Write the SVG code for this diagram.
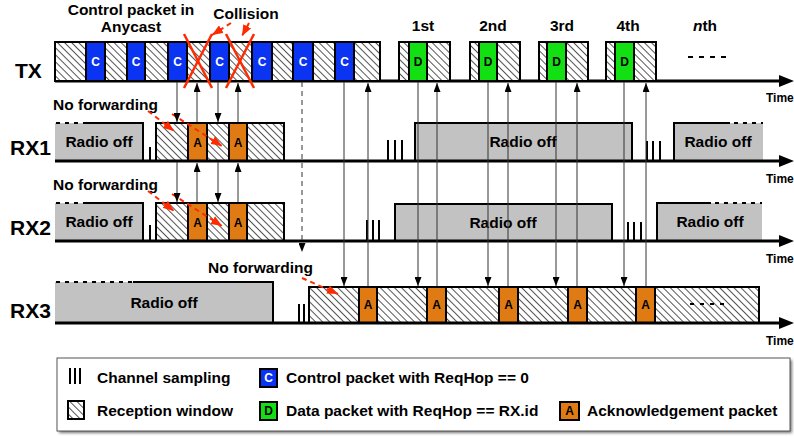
<svg xmlns="http://www.w3.org/2000/svg" width="794" height="437" viewBox="0 0 794 437">
<defs>
<pattern id="h" patternUnits="userSpaceOnUse" width="5" height="5" patternTransform="rotate(-45)">
<rect width="5" height="5" fill="#fff"/>
<line x1="0.5" y1="0" x2="0.5" y2="5" stroke="#555" stroke-width="1"/>
</pattern>
<marker id="ar" viewBox="0 0 9 7" refX="9" refY="3.5" markerWidth="9" markerHeight="7" markerUnits="userSpaceOnUse" orient="auto"><path d="M0,0 L9,3.5 L0,7z" fill="#000"/></marker>
<marker id="rar" viewBox="0 0 10 8" refX="10" refY="4" markerWidth="11" markerHeight="9" markerUnits="userSpaceOnUse" orient="auto"><path d="M0,0 L10,4 L0,8z" fill="#ff2a00"/></marker>
<filter id="sh" x="-5%" y="-10%" width="110%" height="130%"><feGaussianBlur stdDeviation="1.5"/></filter>
</defs>
<style>
.hb{fill:url(#h);stroke:#000;stroke-width:2}
.c{fill:#0b34f2;stroke:#000;stroke-width:2}
.d{fill:#12e012;stroke:#000;stroke-width:2}
.a{fill:#e07b14;stroke:#000;stroke-width:2}
.off{fill:#c2c2c2}
.edge{fill:none;stroke:#000;stroke-width:2}
.dots{fill:none;stroke:#000;stroke-width:2;stroke-dasharray:4,5}
.axis{stroke:#000;stroke-width:3}
.samp{stroke:#000;stroke-width:2}
.t{font-family:'Liberation Sans',Arial,sans-serif;font-weight:bold;fill:#000}
.lb{font-size:15.5px}
.row{font-size:21px}
.tm{font-size:12px}
.pk{font-size:12px;text-anchor:middle}
.pw{fill:#fff}
.conn{stroke:#333;stroke-width:1;fill:none}
.red{stroke:#ff2a00;stroke-width:2.5;fill:none}
.rdash{stroke:#ff2a00;stroke-width:2;fill:none;stroke-dasharray:5,4}
</style>

<!-- TX row -->
<g id="tx">
<line class="axis" x1="55" y1="81" x2="782" y2="81"/>
<polygon points="779,75 794,81 779,87" fill="#000"/>
<rect class="hb" x="55" y="42" width="325" height="39"/>
<rect class="c" x="86" y="42" width="19" height="39"/>
<rect class="c" x="127" y="42" width="18" height="39"/>
<rect class="c" x="168" y="42" width="19" height="39"/>
<rect class="c" x="210" y="42" width="19" height="39"/>
<rect class="c" x="252" y="42" width="20" height="39"/>
<rect class="c" x="293" y="42" width="20" height="39"/>
<rect class="c" x="335" y="42" width="19" height="39"/>
<g class="t pk pw">
<text x="95.5" y="66">C</text><text x="136" y="66">C</text><text x="177.5" y="66">C</text><text x="219.5" y="66">C</text><text x="262" y="66">C</text><text x="303" y="66">C</text><text x="344.5" y="66">C</text>
</g>
<rect class="hb" x="399" y="42" width="51" height="39"/><rect class="d" x="409" y="42" width="18" height="39"/>
<rect class="hb" x="470" y="42" width="50" height="39"/><rect class="d" x="479" y="42" width="18" height="39"/>
<rect class="hb" x="539" y="42" width="49" height="39"/><rect class="d" x="547" y="42" width="19" height="39"/>
<rect class="hb" x="606" y="42" width="50" height="39"/><rect class="d" x="615" y="42" width="19" height="39"/>
<g class="t pk">
<text x="418" y="66">D</text><text x="488" y="66">D</text><text x="556.5" y="66">D</text><text x="624.5" y="66">D</text>
</g>
<line x1="688" y1="57" x2="728" y2="57" stroke="#000" stroke-width="2" stroke-dasharray="5,6"/>
<text class="t row" x="15" y="78">TX</text>
<text class="t tm" x="766" y="102">Time</text>
<g class="t lb" text-anchor="middle">
<text x="131" y="15">Control packet in</text>
<text x="131" y="32">Anycast</text>
<text x="246" y="19">Collision</text>
<text x="423" y="31">1st</text>
<text x="493" y="31">2nd</text>
<text x="562" y="31">3rd</text>
<text x="628" y="31">4th</text>
<text x="705" y="31"><tspan font-style="italic">n</tspan>th</text>
</g>
<line class="red" x1="184" y1="34" x2="212" y2="88"/>
<line class="red" x1="212" y1="34" x2="184" y2="88"/>
<line class="red" x1="226" y1="34" x2="254" y2="88"/>
<line class="red" x1="254" y1="34" x2="226" y2="88"/>
<line class="rdash" x1="231" y1="23" x2="212" y2="35" marker-end="url(#rar)"/>
<line class="rdash" x1="249" y1="23" x2="242" y2="36" marker-end="url(#rar)"/>
</g>

<!-- RX1 row -->
<g id="rx1">
<rect class="off" x="55" y="123" width="88" height="38"/>
<path class="edge" d="M83,123 H143 V161"/>
<line class="dots" x1="56" y1="123" x2="83" y2="123"/>
<line class="samp" x1="150" y1="147" x2="150" y2="161"/>
<rect class="hb" x="156" y="123" width="128" height="38"/>
<rect class="a" x="188" y="123" width="19" height="38"/>
<rect class="a" x="229" y="123" width="18" height="38"/>
<g class="t pk"><text x="197.5" y="147">A</text><text x="238" y="147">A</text></g>
<line class="samp" x1="388" y1="140" x2="388" y2="161"/><line class="samp" x1="395" y1="140" x2="395" y2="161"/><line class="samp" x1="402" y1="140" x2="402" y2="161"/>
<rect class="off" x="415" y="123" width="217" height="38"/>
<path class="edge" d="M415,161 V123 H632 V161"/>
<line class="samp" x1="647" y1="141" x2="647" y2="161"/><line class="samp" x1="653" y1="141" x2="653" y2="161"/><line class="samp" x1="660" y1="141" x2="660" y2="161"/>
<rect class="off" x="674" y="123" width="89" height="38"/>
<path class="edge" d="M674,161 V123 H730"/>
<line class="dots" x1="734" y1="123" x2="763" y2="123"/>
<line class="axis" x1="55" y1="161" x2="782" y2="161"/>
<polygon points="779,155 794,161 779,167" fill="#000"/>
<g class="t lb" text-anchor="middle">
<text x="99" y="147">Radio off</text>
<text x="523" y="147">Radio off</text>
<text x="718" y="147">Radio off</text>
</g>
<text class="t row" x="10" y="155">RX1</text>
<text class="t tm" x="766" y="183">Time</text>
<text class="t lb" x="53" y="110">No forwarding</text>
<line class="rdash" x1="148" y1="111" x2="174" y2="131" marker-end="url(#rar)"/>
<line class="rdash" x1="172" y1="114" x2="222" y2="146" marker-end="url(#rar)"/>
</g>

<!-- RX2 row -->
<g id="rx2">
<rect class="off" x="55" y="203" width="88" height="38"/>
<path class="edge" d="M83,203 H143 V241"/>
<line class="dots" x1="56" y1="203" x2="83" y2="203"/>
<line class="samp" x1="150" y1="225" x2="150" y2="241"/>
<rect class="hb" x="156" y="203" width="128" height="38"/>
<rect class="a" x="188" y="203" width="19" height="38"/>
<rect class="a" x="229" y="203" width="18" height="38"/>
<g class="t pk"><text x="197.5" y="227">A</text><text x="238" y="227">A</text></g>
<line class="samp" x1="367" y1="220" x2="367" y2="241"/><line class="samp" x1="373" y1="220" x2="373" y2="241"/><line class="samp" x1="379" y1="220" x2="379" y2="241"/>
<rect class="off" x="395" y="204" width="217" height="37"/>
<path class="edge" d="M395,241 V204 H612 V241"/>
<line class="samp" x1="628" y1="222" x2="628" y2="241"/><line class="samp" x1="634" y1="222" x2="634" y2="241"/><line class="samp" x1="641" y1="222" x2="641" y2="241"/>
<rect class="off" x="657" y="203" width="105" height="38"/>
<path class="edge" d="M657,241 V203 H711"/>
<line class="dots" x1="715" y1="203" x2="762" y2="203"/>
<line class="axis" x1="55" y1="241" x2="782" y2="241"/>
<polygon points="779,235 794,241 779,247" fill="#000"/>
<g class="t lb" text-anchor="middle">
<text x="99" y="227">Radio off</text>
<text x="503" y="228">Radio off</text>
<text x="710" y="227">Radio off</text>
</g>
<text class="t row" x="10" y="235">RX2</text>
<text class="t tm" x="766" y="263">Time</text>
<text class="t lb" x="53" y="190">No forwarding</text>
<line class="rdash" x1="148" y1="191" x2="174" y2="211" marker-end="url(#rar)"/>
<line class="rdash" x1="172" y1="194" x2="222" y2="226" marker-end="url(#rar)"/>
</g>

<!-- RX3 row -->
<g id="rx3">
<rect class="off" x="55" y="282" width="218" height="41"/>
<path class="edge" d="M133,282 H273 V323"/>
<line class="dots" x1="56" y1="282" x2="133" y2="282"/>
<line class="samp" x1="299" y1="304" x2="299" y2="323"/><line class="samp" x1="304" y1="304" x2="304" y2="323"/>
<rect class="hb" x="309" y="287" width="450" height="36"/>
<rect class="a" x="359" y="287" width="18" height="36"/>
<rect class="a" x="427" y="287" width="19" height="36"/>
<rect class="a" x="499" y="287" width="19" height="36"/>
<rect class="a" x="568" y="287" width="19" height="36"/>
<rect class="a" x="636" y="287" width="19" height="36"/>
<g class="t pk"><text x="368" y="309">A</text><text x="436.5" y="309">A</text><text x="508.5" y="309">A</text><text x="577.5" y="309">A</text><text x="645.5" y="309">A</text></g>
<line x1="690" y1="304" x2="726" y2="304" stroke="#000" stroke-width="2" stroke-dasharray="4,6"/>
<line class="axis" x1="55" y1="323" x2="782" y2="323"/>
<polygon points="779,317 794,323 779,329" fill="#000"/>
<text class="t lb" x="164" y="308" text-anchor="middle">Radio off</text>
<text class="t row" x="10" y="318">RX3</text>
<text class="t tm" x="766" y="345">Time</text>
<text class="t lb" x="208" y="273">No forwarding</text>
<line class="rdash" x1="302" y1="278" x2="338" y2="294" marker-end="url(#rar)"/>
</g>

<!-- connectors -->
<g id="connectors">
<line class="conn" x1="177" y1="82" x2="177" y2="122" marker-end="url(#ar)"/>
<line class="conn" x1="177" y1="162" x2="177" y2="202" marker-end="url(#ar)"/>
<line class="conn" x1="197" y1="122" x2="197" y2="83" marker-end="url(#ar)"/>
<line class="conn" x1="197" y1="202" x2="197" y2="163" marker-end="url(#ar)"/>
<line class="conn" x1="218" y1="82" x2="218" y2="122" marker-end="url(#ar)"/>
<line class="conn" x1="218" y1="162" x2="218" y2="202" marker-end="url(#ar)"/>
<line class="conn" x1="238" y1="122" x2="238" y2="83" marker-end="url(#ar)"/>
<line class="conn" x1="238" y1="202" x2="238" y2="163" marker-end="url(#ar)"/>
<line class="conn" x1="302" y1="82" x2="302" y2="252" stroke-dasharray="5,4" marker-end="url(#ar)"/>
<line class="conn" x1="344" y1="82" x2="344" y2="286" marker-end="url(#ar)"/>
<line class="conn" x1="368" y1="286" x2="368" y2="83" marker-end="url(#ar)"/>
<line class="conn" x1="418" y1="82" x2="418" y2="286" marker-end="url(#ar)"/>
<line class="conn" x1="437" y1="286" x2="437" y2="83" marker-end="url(#ar)"/>
<line class="conn" x1="488" y1="82" x2="488" y2="286" marker-end="url(#ar)"/>
<line class="conn" x1="508" y1="286" x2="508" y2="83" marker-end="url(#ar)"/>
<line class="conn" x1="556" y1="82" x2="556" y2="286" marker-end="url(#ar)"/>
<line class="conn" x1="577" y1="286" x2="577" y2="83" marker-end="url(#ar)"/>
<line class="conn" x1="624" y1="82" x2="624" y2="286" marker-end="url(#ar)"/>
<line class="conn" x1="646" y1="286" x2="646" y2="83" marker-end="url(#ar)"/>
</g>

<!-- legend -->
<g id="legend">
<rect x="59" y="360" width="733" height="73" fill="#777" filter="url(#sh)"/>
<rect x="57" y="358" width="733" height="73" fill="#fff" stroke="#555" stroke-width="1"/>
<line class="samp" x1="70" y1="368" x2="70" y2="384"/><line class="samp" x1="75" y1="368" x2="75" y2="384"/><line class="samp" x1="80" y1="368" x2="80" y2="384"/>
<rect class="hb" x="68" y="401" width="16" height="18"/>
<rect class="c" x="260" y="369" width="17" height="18"/>
<text class="t pk pw" x="268.5" y="382">C</text>
<rect class="d" x="260" y="402" width="17" height="18"/>
<text class="t pk" x="268.5" y="415">D</text>
<rect class="a" x="560" y="402" width="19" height="18"/>
<text class="t pk" x="569.5" y="415">A</text>
<g class="t lb">
<text x="97" y="383">Channel sampling</text>
<text x="97" y="416">Reception window</text>
<text x="286" y="383">Control packet with ReqHop == 0</text>
<text x="286" y="416">Data packet with ReqHop == RX.id</text>
<text x="587" y="416">Acknowledgement packet</text>
</g>
</g>
</svg>
